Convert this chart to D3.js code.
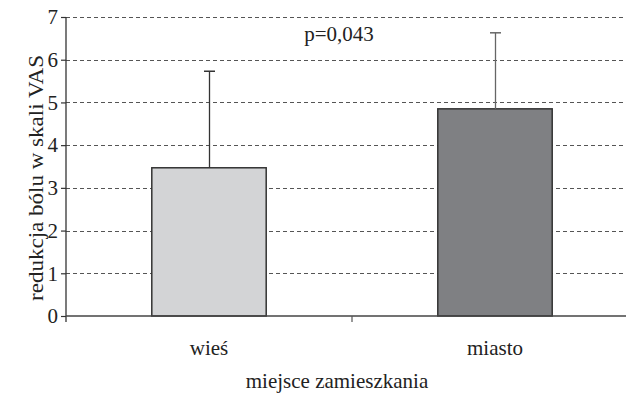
<!DOCTYPE html>
<html>
<head>
<meta charset="utf-8">
<script src="https://cdn.jsdelivr.net/npm/d3@7"></script>
<style>
  html, body { margin: 0; padding: 0; background: #fff; }
  svg { display: block; }
</style>
</head>
<body>
<script>
const categories = ["wieś", "miasto"];
const means = [3.47, 4.85];
const errTops = [5.73, 6.63];
const barColors = ["#d3d4d6", "#7f8083"];
const errColors = ["#333333", "#666666"];
const yTicks = [0, 1, 2, 3, 4, 5, 6, 7];
const pLabel = "p=0,043";
const yTitle = "redukcja bólu w skali VAS";
const xTitle = "miejsce zamieszkania";

const FONT = "'Liberation Serif', 'Times New Roman', Times, 'DejaVu Serif', serif";
const W = 626, H = 394;
const svg = d3.select("body").append("svg").attr("width", W).attr("height", H);

const x = d3.scaleBand().domain(categories).range([66, 638]).padding(0);
const y = d3.scaleLinear().domain([0, 7]).range([316, 17]);

// gridlines
svg.append("g").selectAll("line").data(yTicks.filter(d => d > 0)).join("line")
  .attr("x1", 66).attr("x2", 640)
  .attr("y1", d => Math.round(y(d)) + 0.5).attr("y2", d => Math.round(y(d)) + 0.5)
  .attr("stroke", "#555").attr("stroke-width", 1).attr("stroke-dasharray", "4,3");

// bars
const bw = x.bandwidth() * 0.4;
svg.append("g").selectAll("rect").data(categories).join("rect")
  .attr("x", (d) => x(d) + (x.bandwidth() - bw) / 2)
  .attr("y", (d, i) => y(means[i]))
  .attr("width", bw)
  .attr("height", (d, i) => y(0) - y(means[i]))
  .attr("fill", (d, i) => barColors[i])
  .attr("stroke", "#333").attr("stroke-width", 1.5);

// error bars
const eg = svg.append("g");
categories.forEach((c, i) => {
  const cx = Math.round(x(c) + x.bandwidth() / 2) + 0.5;
  eg.append("line").attr("x1", cx).attr("x2", cx)
    .attr("y1", y(means[i])).attr("y2", y(errTops[i]))
    .attr("stroke", errColors[i]).attr("stroke-width", 1.3);
  eg.append("line").attr("x1", cx - 5.5).attr("x2", cx + 5.5)
    .attr("y1", y(errTops[i])).attr("y2", y(errTops[i]))
    .attr("stroke", errColors[i]).attr("stroke-width", 1.5);
});

// y axis
const yAxis = d3.axisLeft(y).tickValues(yTicks).tickSize(5).tickPadding(3).tickFormat(d3.format("d"));
const yg = svg.append("g").attr("transform", "translate(66,0)").call(yAxis);
yg.attr("font-family", null).attr("font-size", null);
yg.select(".domain").remove();
yg.append("line").attr("x1", 0).attr("x2", 0).attr("y1", y(7)).attr("y2", y(0) + 6)
  .attr("stroke", "#333").attr("stroke-width", 1.3);
yg.selectAll(".tick line").attr("stroke", "#333").attr("stroke-width", 1.2);
yg.selectAll(".tick text").style("font-family", FONT).style("font-size", "21px").attr("fill", "#222");

// x axis
const xg = svg.append("g").attr("transform", `translate(0,${y(0)})`);
xg.append("line").attr("x1", 66).attr("x2", 640).attr("y1", 0).attr("y2", 0)
  .attr("stroke", "#444").attr("stroke-width", 1.5);
xg.selectAll("line.bt").data(categories.slice(1)).join("line").attr("class", "bt")
  .attr("x1", d => x(d)).attr("x2", d => x(d)).attr("y1", 0).attr("y2", 6)
  .attr("stroke", "#555").attr("stroke-width", 1.2);
xg.selectAll("text.cat").data(categories).join("text").attr("class", "cat")
  .attr("x", d => x(d) + x.bandwidth() / 2).attr("y", 39)
  .attr("text-anchor", "middle").attr("fill", "#222")
  .style("font-family", FONT).style("font-size", "21px").text(d => d);

// titles
svg.append("text").attr("x", 337).attr("y", 388).attr("text-anchor", "middle").attr("fill", "#222")
  .style("font-family", FONT).style("font-size", "21px").text(xTitle);
svg.append("text").attr("transform", "translate(43,178) rotate(-90)")
  .attr("text-anchor", "middle").attr("fill", "#222")
  .style("font-family", FONT).style("font-size", "22px")
  .attr("textLength", 246).attr("lengthAdjust", "spacingAndGlyphs").text(yTitle);

// p label
svg.append("text").attr("x", 339).attr("y", 41).attr("text-anchor", "middle").attr("fill", "#222")
  .style("font-family", FONT).style("font-size", "21px").text(pLabel);
</script>
</body>
</html>
